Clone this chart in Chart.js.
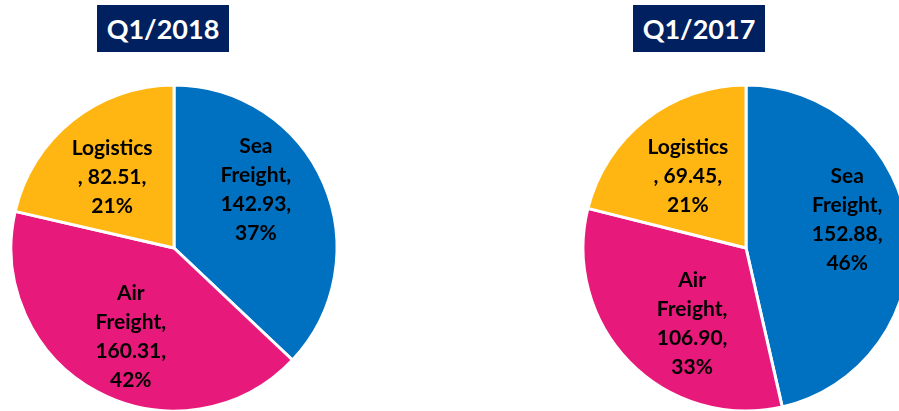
<!DOCTYPE html>
<html>
<head>
<meta charset="utf-8">
<script src="https://cdn.jsdelivr.net/npm/chart.js@4"></script>
<style>
  html, body { margin: 0; padding: 0; background: #fff; width: 899px; height: 411px; overflow: hidden; }
  .title {
    position: absolute; top: 5px; width: 132px; height: 47px;
    background: #002060; color: #fff;
    font: bold 27px Lato, sans-serif; line-height: 47px; text-align: center;
  }
  .pie { position: absolute; top: 83px; width: 348px; height: 330px; }
</style>
</head>
<body>
<div class="title" style="left:97px">Q1/2018</div>
<div class="title" style="left:633px">Q1/2017</div>
<div class="pie" style="left:0px"><canvas id="pie2018"></canvas></div>
<div class="pie" style="left:572px"><canvas id="pie2017"></canvas></div>
<script>
const categories = ['Sea Freight', 'Air Freight', 'Logistics'];
const values2018 = [142.93, 160.31, 82.51];
const values2017 = [152.88, 106.90, 69.45];
// percentages as printed on the chart
const pct2018 = [37, 42, 21];
const pct2017 = [46, 33, 21];
const sliceColors = ['#0070C0', '#E7197A', '#FFB612'];

// small nudges so labels sit roughly where Excel's "best fit" put them
const nudge2018 = [[-8, -20], [3, 3], [-1, 6]];
const nudge2017 = [[4, -17], [16, 7], [2, 5]];

function labelLines(name, value, pct) {
  const words = name.split(' ');
  let lines;
  if (words.length > 1) {
    lines = words.slice();
    lines[lines.length - 1] += ',';
    lines.push(value.toFixed(2) + ',');
  } else {
    lines = [name, ', ' + value.toFixed(2) + ','];
  }
  lines.push(pct + '%');
  return lines;
}

const sliceLabels = {
  id: 'sliceLabels',
  afterDatasetsDraw(chart, args, opts) {
    const ctx = chart.ctx;
    const data = chart.data.datasets[0].data;
    const meta = chart.getDatasetMeta(0);
    ctx.save();
    ctx.font = 'bold 21px Lato, sans-serif';
    ctx.fillStyle = '#000';
    ctx.textAlign = 'center';
    ctx.textBaseline = 'middle';
    meta.data.forEach((arc, i) => {
      const p = arc.getProps(['x', 'y', 'startAngle', 'endAngle', 'outerRadius'], true);
      const mid = (p.startAngle + p.endAngle) / 2;
      const r = p.outerRadius * 0.6;
      const cx = p.x + Math.cos(mid) * r + opts.nudge[i][0];
      const cy = p.y + Math.sin(mid) * r + opts.nudge[i][1];
      const lines = labelLines(chart.data.labels[i], data[i], opts.pct[i]);
      const lh = 29;
      lines.forEach((t, k) => {
        ctx.fillText(t, cx, cy + (k - (lines.length - 1) / 2) * lh);
      });
    });
    ctx.restore();
  }
};

function makePie(id, values, pct, nudge) {
  new Chart(document.getElementById(id).getContext('2d'), {
    type: 'pie',
    data: {
      labels: categories,
      datasets: [{
        data: values,
        backgroundColor: sliceColors,
        borderColor: '#ffffff',
        borderWidth: 3,
        hoverOffset: 0
      }]
    },
    options: {
      responsive: true,
      maintainAspectRatio: false,
      animation: false,
      radius: 163,
      layout: { padding: 0 },
      plugins: {
        legend: { display: false },
        tooltip: { enabled: false },
        sliceLabels: { nudge: nudge, pct: pct }
      }
    },
    plugins: [sliceLabels]
  });
}

makePie('pie2018', values2018, pct2018, nudge2018);
makePie('pie2017', values2017, pct2017, nudge2017);
</script>
</body>
</html>
